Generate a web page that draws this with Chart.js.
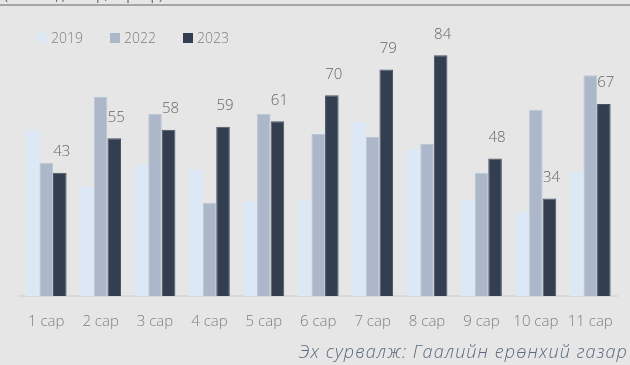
<!DOCTYPE html>
<html>
<head>
<meta charset="utf-8">
<script src="https://cdn.jsdelivr.net/npm/chart.js@4/dist/chart.umd.min.js"></script>
<style>
    html, body {
        margin: 0;
        padding: 0;
        background: #e6e6e6;
        width: 630px;
        height: 365px;
        overflow: hidden;
        font-family: 'Open Sans', 'Noto Sans', sans-serif;
    }
    #wrap {
        position: absolute;
        left: 0;
        top: 0;
        width: 630px;
        height: 365px;
    }
    #title {
        position: absolute;
        left: 4px;
        top: -16px;
        font-size: 14px;
        color: #666;
        white-space: nowrap;
    }
    #rule {
        position: absolute;
        left: 0;
        top: 4px;
        width: 630px;
        height: 2px;
        background: #a6a6a6;
    }
    #legend {
        position: absolute;
        left: 37px;
        top: 28px;
        display: flex;
        font-size: 14px;
        font-weight: 300;
        color: #7f7f7f;
    }
    .legend-item {
        display: flex;
        align-items: center;
        margin-right: 27px;
    }
    .legend-box {
        width: 10px;
        height: 10px;
        margin-right: 4px;
    }
    #source {
        position: absolute;
        right: 2px;
        top: 339px;
        font-size: 18px;
        letter-spacing: 1.1px;
        font-style: italic;
        font-weight: 300;
        color: #5b6a7e;
        white-space: nowrap;
    }
</style>
</head>
<body>
<div id="wrap"><canvas id="tradeChart"></canvas></div>
<div id="title">(сая ам.доллар, сараар)</div>
<div id="rule"></div>
<div id="legend"></div>
<div id="source">Эх сурвалж: Гаалийн ерөнхий газар</div>
<script>
const months = ['1 сар', '2 сар', '3 сар', '4 сар', '5 сар', '6 сар', '7 сар', '8 сар', '9 сар', '10 сар', '11 сар'];
const values2019 = [58, 38, 45.5, 44, 33, 33.5, 60.5, 51, 33.5, 29, 43.5];
const values2022 = [46.5, 69.5, 63.5, 32.5, 63.5, 56.5, 55.5, 53, 43, 65, 77];
const values2023 = [43, 55, 58, 59, 61, 70, 79, 84, 48, 34, 67];

const colors = ['#dce8f5', '#acb8ca', '#333e50'];
const edgeColors = ['#dce8f5', '#bcc6d5', '#4a5466'];

// value labels above the 2023 bars
const valueLabels = {
    id: 'valueLabels',
    afterDatasetsDraw(chart) {
        const ctx = chart.ctx;
        const meta = chart.getDatasetMeta(2);
        const data = chart.data.datasets[2].data;
        ctx.save();
        ctx.font = '300 15px "Open Sans", sans-serif';
        ctx.fillStyle = '#666666';
        ctx.textAlign = 'center';
        ctx.textBaseline = 'alphabetic';
        meta.data.forEach((bar, i) => {
            ctx.fillText(String(data[i]), bar.x + 2, bar.y - 16.5);
        });
        ctx.restore();
    }
};

const chart = new Chart(document.getElementById('tradeChart'), {
    type: 'bar',
    data: {
        labels: months,
        datasets: [
            { label: '2019', data: values2019 },
            { label: '2022', data: values2022 },
            { label: '2023', data: values2023 }
        ].map((ds, i) => Object.assign(ds, {
            backgroundColor: colors[i],
            borderColor: edgeColors[i],
            borderWidth: i === 0 ? 0 : 1,
            borderSkipped: 'bottom',
            categoryPercentage: 0.75,
            barPercentage: 1
        }))
    },
    options: {
        responsive: true,
        maintainAspectRatio: false,
        animation: false,
        layout: {
            padding: { top: 38, left: 19, right: 5, bottom: 17 }
        },
        plugins: {
            legend: { display: false },
            tooltip: { enabled: false }
        },
        scales: {
            x: {
                grid: { display: false, drawTicks: false },
                border: { display: true, color: '#d9d9d9', width: 2 },
                ticks: {
                    color: '#7f7f7f',
                    padding: 17,
                    font: { family: '"Open Sans", sans-serif', size: 15, weight: '300' },
                    maxRotation: 0,
                    autoSkip: false
                }
            },
            y: {
                display: false,
                min: 0,
                max: 90
            }
        }
    },
    plugins: [valueLabels]
});

// legend built from the datasets
const legend = document.getElementById('legend');
legend.innerHTML = chart.data.datasets.map(ds => `
    <div class="legend-item">
        <span class="legend-box" style="background:${ds.backgroundColor}"></span>
        <span>${ds.label}</span>
    </div>
`).join('');
</script>
</body>
</html>
